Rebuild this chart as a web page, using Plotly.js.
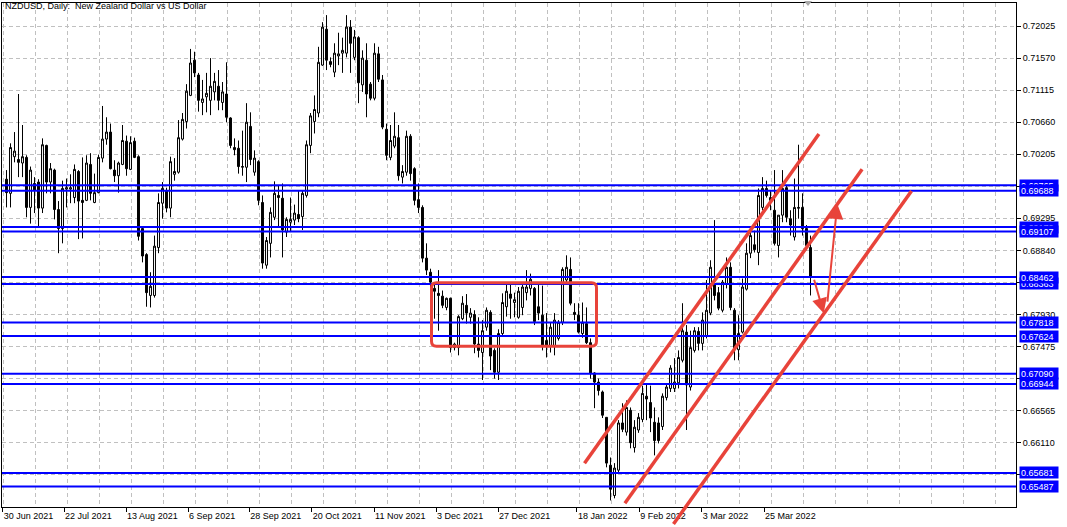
<!DOCTYPE html>
<html><head><meta charset="utf-8">
<script src="https://cdn.plot.ly/plotly-3.0.1.min.js"></script>
<style>html,body{margin:0;padding:0;background:#fff;}#chart{width:1067px;height:527px;}</style>
</head><body><div id="chart"></div>
<script>
// NZDUSD daily candles, one entry per trading day
const openP = [
.6985,.6965,.7017,.7013,.7008,.7016,.6945,.6979,.6981,.6944,.7033,.6981,.6998,.6942,.6915,.6971,.6971,.6959,.6996,.6955,
.6955,.7006,.6952,.6966,.7015,.7042,.7052,.6998,.6990,.7006,.7039,.6999,.7039,.7017,.6915,.6878,.6820,.6820,.6888,.6951,
.6969,.6944,.6992,.6995,.7042,.7067,.7104,.7154,.7133,.7094,.7102,.7097,.7109,.7117,.7094,.7106,.7072,.7030,.7029,.7002,
.7002,.7060,.6995,.7010,.6952,.6863,.6894,.6931,.6962,.6958,.6910,.6924,.6927,.6935,.6932,.6962,.7033,.7067,.7079,.7147,
.7198,.7152,.7137,.7160,.7164,.7164,.7201,.7158,.7186,.7119,.7154,.7120,.7100,.7163,.7126,.7056,.7016,.7032,.7044,.6988,
.6995,.7046,.7000,.6956,.6945,.6873,.6853,.6830,.6823,.6819,.6803,.6816,.6746,.6746,.6787,.6806,.6789,.6793,.6751,.6739,
.6775,.6796,.6742,.6711,.6766,.6804,.6822,.6810,.6789,.6803,.6824,.6830,.6830,.6804,.6792,.6756,.6749,.6749,.6759,.6782,
.6842,.6857,.6796,.6792,.6766,.6780,.6753,.6710,.6697,.6683,.6647,.6579,.6536,.6572,.6639,.6626,.6657,.6604,.6629,.6644,
.6677,.6668,.6640,.6639,.6634,.6675,.6688,.6688,.6696,.6728,.6768,.6690,.6742,.6769,.6752,.6763,.6795,.6837,.6824,.6799,
.6837,.6860,.6799,.6743,.6768,.6829,.6880,.6892,.6881,.6945,.6972,.6959,.6941,.6891,.6934,.6973,.6929,.6903,.6945,.6945,
.6915,.6888];
const highP = [
.6998,.7036,.7052,.7106,.7062,.7019,.7003,.6988,.6985,.7043,.7034,.7008,.7000,.6954,.6983,.6986,.6992,.7006,.6998,.7016,
.7019,.7022,.6993,.7020,.7089,.7073,.7064,.7012,.7010,.7062,.7047,.7046,.7044,.7019,.6917,.6880,.6853,.6905,.6965,.6981,
.6973,.7017,.7015,.7069,.7079,.7120,.7170,.7166,.7136,.7126,.7136,.7157,.7136,.7140,.7123,.7151,.7073,.7043,.7040,.7054,
.7093,.7080,.7026,.7012,.6962,.6903,.6945,.6982,.6976,.6979,.6931,.6959,.6949,.6969,.6969,.7040,.7079,.7104,.7173,.7208,
.7218,.7158,.7178,.7193,.7186,.7218,.7211,.7197,.7188,.7168,.7178,.7123,.7178,.7173,.7133,.7064,.7062,.7080,.7062,.7005,
.7054,.7049,.7002,.6979,.6948,.6894,.6858,.6837,.6856,.6827,.6817,.6817,.6753,.6792,.6819,.6822,.6802,.6799,.6789,.6785,
.6803,.6799,.6745,.6772,.6823,.6839,.6837,.6824,.6832,.6837,.6856,.6851,.6832,.6837,.6834,.6795,.6782,.6795,.6785,.6860,
.6877,.6874,.6809,.6809,.6810,.6803,.6759,.6711,.6702,.6685,.6647,.6590,.6582,.6643,.6667,.6671,.6661,.6643,.6653,.6692,
.6695,.6692,.6661,.6647,.6681,.6693,.6721,.6731,.6742,.6809,.6778,.6770,.6775,.6775,.6796,.6842,.6870,.6927,.6832,.6842,
.6874,.6867,.6802,.6792,.6844,.6894,.6912,.6912,.6972,.6988,.6983,.6969,.6998,.6934,.6998,.6976,.6941,.6986,.7034,.6965,
.6920,.6905];
const lowP = [
.6945,.6945,.7009,.6988,.6988,.6931,.6922,.6937,.6918,.6937,.6965,.6965,.6928,.6880,.6894,.6945,.6951,.6951,.6900,.6901,
.6954,.6955,.6951,.6965,.7009,.7034,.6999,.6981,.6966,.7005,.6990,.6998,.7015,.6898,.6867,.6804,.6803,.6817,.6880,.6929,
.6938,.6931,.6983,.6993,.7040,.7057,.7103,.7130,.7081,.7076,.7080,.7076,.7097,.7083,.7083,.7066,.7029,.7019,.6993,.6990,
.6981,.7005,.6990,.6948,.6858,.6858,.6874,.6927,.6917,.6874,.6903,.6910,.6920,.6924,.6913,.6959,.7022,.7050,.7073,.7146,
.7140,.7144,.7130,.7147,.7136,.7158,.7136,.7154,.7093,.7109,.7073,.7097,.7097,.7123,.7056,.7012,.7012,.7029,.6983,.6979,
.6990,.6983,.6948,.6937,.6867,.6849,.6817,.6787,.6770,.6802,.6799,.6739,.6742,.6735,.6785,.6780,.6780,.6738,.6732,.6700,
.6770,.6714,.6702,.6700,.6763,.6790,.6787,.6789,.6787,.6792,.6813,.6820,.6778,.6785,.6742,.6732,.6739,.6735,.6756,.6778,
.6837,.6806,.6785,.6766,.6760,.6751,.6702,.6660,.6678,.6646,.6576,.6529,.6532,.6569,.6626,.6621,.6603,.6597,.6625,.6640,
.6643,.6626,.6593,.6610,.6629,.6671,.6683,.6683,.6688,.6725,.6629,.6685,.6739,.6742,.6742,.6759,.6792,.6813,.6799,.6796,
.6830,.6799,.6728,.6728,.6766,.6827,.6873,.6881,.6863,.6941,.6959,.6941,.6891,.6874,.6924,.6924,.6905,.6898,.6929,.6905,
.6884,.6820];
const closeP = [
.6966,.7030,.7025,.7009,.7017,.6945,.6998,.6969,.6944,.7034,.6981,.7000,.6942,.6915,.6972,.6973,.6973,.6999,.6954,.6952,
.7008,.6965,.6966,.7016,.7042,.7052,.7000,.6990,.7008,.7040,.7000,.7037,.7016,.6904,.6876,.6824,.6833,.6890,.6952,.6972,
.6944,.7010,.6996,.7044,.7070,.7110,.7150,.7136,.7097,.7099,.7107,.7117,.7124,.7097,.7109,.7073,.7033,.7027,.7003,.7003,
.7066,.7013,.7015,.6955,.6866,.6898,.6938,.6965,.6959,.6913,.6928,.6928,.6937,.6929,.6965,.7034,.7075,.7084,.7151,.7201,
.7154,.7148,.7164,.7163,.7168,.7201,.7178,.7187,.7122,.7157,.7106,.7100,.7164,.7127,.7059,.7019,.7040,.7046,.6990,.6996,
.7046,.6993,.6955,.6945,.6873,.6856,.6839,.6826,.6820,.6806,.6816,.6746,.6751,.6790,.6809,.6795,.6795,.6751,.6742,.6770,
.6799,.6734,.6711,.6766,.6810,.6826,.6816,.6814,.6826,.6832,.6832,.6843,.6783,.6795,.6748,.6748,.6775,.6785,.6782,.6857,
.6860,.6809,.6793,.6768,.6782,.6753,.6710,.6697,.6685,.6650,.6582,.6545,.6575,.6639,.6630,.6661,.6611,.6633,.6647,.6681,
.6673,.6646,.6614,.6614,.6677,.6690,.6717,.6697,.6732,.6770,.6693,.6746,.6770,.6752,.6785,.6799,.6860,.6820,.6802,.6839,
.6860,.6803,.6745,.6766,.6832,.6880,.6905,.6885,.6962,.6972,.6962,.6955,.6894,.6934,.6972,.6931,.6920,.6945,.6944,.6915,
.6891,.6846];

// Time axis labels and their positions (in bar units)
const dateLabels = ['30 Jun 2021','22 Jul 2021','13 Aug 2021','6 Sep 2021','28 Sep 2021','20 Oct 2021','11 Nov 2021',
  '3 Dec 2021','27 Dec 2021','18 Jan 2022','9 Feb 2022','3 Mar 2022','25 Mar 2022'];
const datePositions = [-0.95,14.4,29.9,45.4,60.7,76.3,91.9,107.4,122.9,142.6,158.2,173.8,189.4];

// Price axis ticks (labels that the level boxes cover are left blank, as in the reference)
const priceTicks = [0.72025,0.71570,0.71115,0.70660,0.70205,0.69750,0.69295,0.68840,0.68385,0.67930,0.67475,0.67020,0.66565,0.66110,0.65655];
const coveredTicks = [0.69750,0.68385,0.67020,0.65655];

// Horizontal support / resistance levels (drawing order)
const levels = [0.69765,0.69688,0.69172,0.69107,0.68363,0.68462,0.67818,0.67624,0.67090,0.66944,0.65681,0.65487];

// Analyst drawings: range box, channel lines, arrows (bar index, price)
const rangeBox = {x0:106.25, x1:147.5, y0:0.6748, y1:0.68379};
const channelLines = [[144.5,0.65818,203.1,0.70492],[154.6,0.6525,213.9,0.69991],[166.75,0.64956,226.25,0.69683]];
const arrows = [[201.8,0.68444,204.3,0.67947],[205.2,0.6809,207.7,0.69498]];

const xRange = [-1.125, 252.375];
const yRange = [0.65197, 0.72352];
const barIndex = openP.map((_, i) => i);
const FONT = 'Liberation Sans, Arial, sans-serif';
const RED = '#e8433a';
const BLUE = '#0000ff';
const GRID = '#c0c0c0';

const px = x => (x - xRange[0]) / (xRange[1] - xRange[0]);
const py = y => (y - yRange[0]) / (yRange[1] - yRange[0]);

const traces = [
  {type:'scatter', x:barIndex, y:closeP, xaxis:'x2', yaxis:'y', mode:'lines', line:{width:0, color:'rgba(0,0,0,0)'},
   opacity:0, hoverinfo:'skip', showlegend:false},
  {type:'candlestick', x:barIndex, open:openP, high:highP, low:lowP, close:closeP,
   increasing:{line:{color:'#000', width:1}, fillcolor:'#ffffff'},
   decreasing:{line:{color:'#000', width:1}, fillcolor:'#000000'},
   whiskerwidth:0, hoverinfo:'skip', showlegend:false}
];

const shapes = [];
levels.forEach(v => shapes.push({type:'line', xref:'paper', x0:0, x1:1, yref:'y', y0:v, y1:v,
  line:{color:BLUE, width:2}}));

const b = rangeBox, rx = 1.25, ry = 0.00071;
shapes.push({type:'path', xref:'x', yref:'y', line:{color:RED, width:3},
  path:`M ${b.x0+rx},${b.y1} L ${b.x1-rx},${b.y1} Q ${b.x1},${b.y1} ${b.x1},${b.y1-ry} L ${b.x1},${b.y0+ry} Q ${b.x1},${b.y0} ${b.x1-rx},${b.y0} L ${b.x0+rx},${b.y0} Q ${b.x0},${b.y0} ${b.x0},${b.y0+ry} L ${b.x0},${b.y1-ry} Q ${b.x0},${b.y1} ${b.x0+rx},${b.y1} Z`});

channelLines.forEach(l => shapes.push({type:'line', xref:'paper', yref:'paper',
  x0:px(l[0]), y0:py(l[1]), x1:px(l[2]), y1:py(l[3]), line:{color:RED, width:3.5}}));

// chart-shift marker on the top edge
shapes.push({type:'path', xref:'paper', yref:'paper', fillcolor:'#a8a8a8', line:{width:0},
  path:'M 0.7910,1.004 L 0.7988,1.004 L 0.7949,0.994 Z'});

const annotations = [];
levels.forEach(v => annotations.push({xref:'paper', x:1.003, xanchor:'left', yref:'y', y:v, yanchor:'middle',
  text:v.toFixed(5), showarrow:false, bgcolor:BLUE, font:{family:FONT, size:9, color:'#ffffff'},
  width:36, height:9, align:'left', borderpad:1}));
arrows.forEach(a => annotations.push({xref:'x', yref:'y', axref:'x', ayref:'y', ax:a[0], ay:a[1], x:a[2], y:a[3],
  text:'', showarrow:true, arrowhead:2, arrowsize:1.5, arrowwidth:2, arrowcolor:RED}));

const layout = {
  width:1067, height:527, autosize:false,
  paper_bgcolor:'#ffffff', plot_bgcolor:'#ffffff',
  margin:{l:2, r:51, t:3, b:20, pad:0},
  showlegend:false,
  font:{family:FONT, size:9, color:'#000'},
  title:{text:'NZDUSD, Daily:\u00a0 New Zealand Dollar vs US Dollar', xref:'container', x:5/1067, xanchor:'left',
    yref:'container', y:1-3/527, yanchor:'top', font:{family:FONT, size:9, color:'#000'}, pad:{t:0,l:0,r:0,b:0}},
  xaxis:{range:xRange, rangeslider:{visible:false}, tickmode:'array', tickvals:datePositions, ticktext:dateLabels,
    ticks:'outside', ticklen:4, tickcolor:'#000', tickwidth:1, ticklabelposition:'outside right',
    showgrid:false, showline:true, linecolor:'#000', linewidth:1, mirror:true, zeroline:false,
    tickfont:{family:FONT, size:9, color:'#000'}, fixedrange:true},
  xaxis2:{overlaying:'x', range:xRange, tickmode:'linear', tick0:7.25, dtick:8, showgrid:true, gridcolor:GRID,
    griddash:'4px,3px', gridwidth:1, showticklabels:false, ticks:'', showline:false, zeroline:false, fixedrange:true},
  yaxis:{side:'right', range:yRange, tickmode:'array', tickvals:priceTicks,
    ticktext:priceTicks.map(v => coveredTicks.includes(v) ? '' : v.toFixed(5)),
    ticks:'outside', ticklen:4, tickcolor:'#000', showgrid:true, gridcolor:GRID, griddash:'4px,3px', gridwidth:1,
    showline:true, linecolor:'#000', linewidth:1, mirror:true, zeroline:false,
    tickfont:{family:FONT, size:9, color:'#000'}, fixedrange:true},
  shapes:shapes,
  annotations:annotations
};

Plotly.newPlot('chart', traces, layout, {staticPlot:true, displayModeBar:false});
</script></body></html>
